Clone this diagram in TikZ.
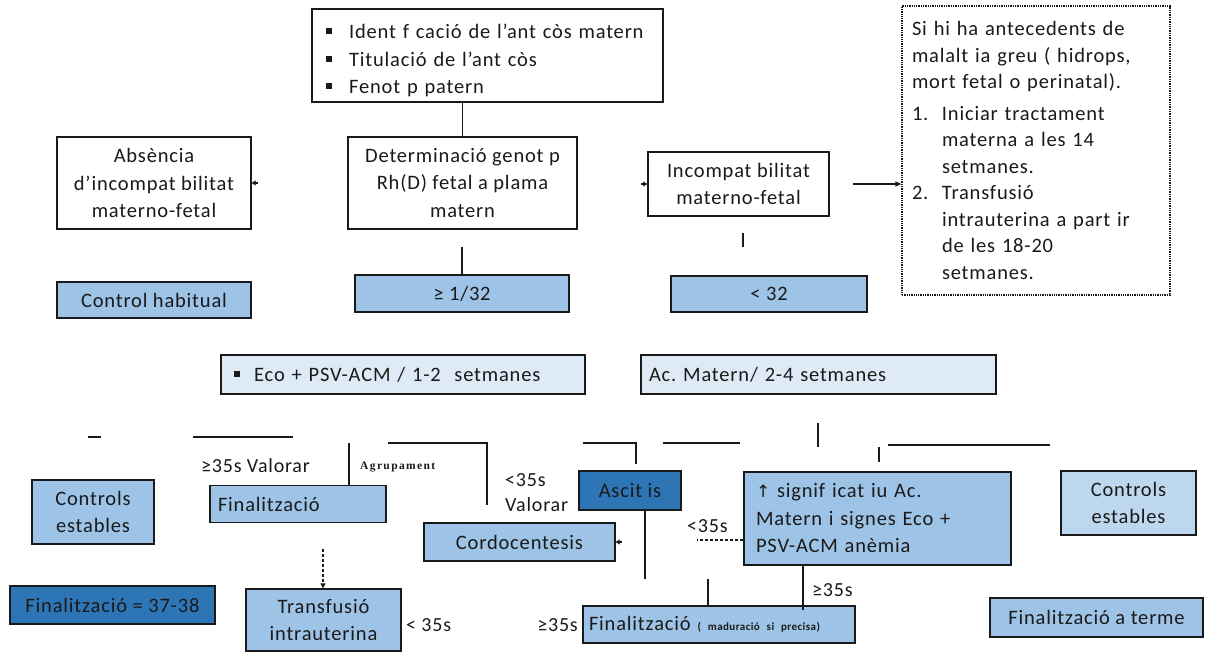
\documentclass[tikz,border=0pt]{standalone}
\usepackage{fontspec}
\setmainfont{Carlito}[LetterSpace=4]
\newfontfamily\symfont{DejaVu Sans}
\newfontfamily\serifb{Liberation Serif}[LetterSpace=12]
\usetikzlibrary{arrows.meta,calc}
\definecolor{boxblue}{HTML}{9DC3E6}
\definecolor{deepblue}{HTML}{2E75B6}
\definecolor{paleblue}{HTML}{DEEBF7}
\definecolor{softblue}{HTML}{BDD7EE}
\definecolor{ink}{HTML}{1A1A1A}
\newcommand\sqbul{\rule[0.22em]{0.3em}{0.3em}}
\frenchspacing
\begin{document}
\begin{tikzpicture}[x=1pt,y=-1pt,
  every node/.style={font=\fontsize{20.5}{27.5}\selectfont, text=ink},
  card/.style={draw=ink, line width=1.3pt, inner sep=0pt, align=center},
  plain/.style={card, fill=white},
  mid/.style={card, fill=boxblue},
  deep/.style={card, fill=deepblue},
  pale/.style={card, fill=paleblue},
  soft/.style={card, fill=softblue},
  note/.style={inner sep=0pt, font=\fontsize{20}{26}\selectfont},
  conn/.style={draw=ink, line width=1.3pt},
  tip/.style={-{Triangle[length=4pt,width=5pt]}}
]
\useasboundingbox (0,0) rectangle (1211,653);
\fill[white] (0,0) rectangle (1211,653);

% --- top level ---
\node[plain, minimum width=351, minimum height=93, text width=323, inner xsep=14, align=left] (abtest) at (487.5,55.5)
  {\rule{0pt}{25pt}\sqbul\hspace{17pt}Ident f cació de l’ant còs matern\\
   \sqbul\hspace{17pt}Titulació de l’ant còs\\
   \sqbul\hspace{17pt}Fenot p patern};

\node[plain, minimum width=229, minimum height=92] (det) at (462.5,183)
  {Determinació genot p\\Rh(D) fetal a plama\\matern};
\node[plain, minimum width=194, minimum height=92] (absent) at (154,183)
  {Absència\\d’incompat bilitat\\materno-fetal};
\node[plain, minimum width=181, minimum height=64] (incomp) at (738.5,184)
  {Incompat bilitat\\materno-fetal};

\node[plain, draw=ink, densely dotted, line width=1.2pt, minimum width=268, minimum height=289,
      text width=248, inner xsep=10, align=left, font=\fontsize{20.5}{26.5}\selectfont] (risk) at (1036,150.5)
  {Si hi ha antecedents de\\
   malalt ia greu ( hidrops,\\
   mort fetal o perinatal).\\[5pt]
   \makebox[30pt][l]{1.}Iniciar tractament\\
   \hspace*{30pt}materna a les 14\\
   \hspace*{30pt}setmanes.\\
   \makebox[30pt][l]{2.}Transfusió\\
   \hspace*{30pt}intrauterina a part ir\\
   \hspace*{30pt}de les 18-20\\
   \hspace*{30pt}setmanes.};

\draw[conn] (det.north) -- (det.north |- abtest.south);
\draw[conn,tip] ([xshift=6pt]absent.east) -- (absent.east);
\draw[conn,tip] ([xshift=-6pt]incomp.west) -- (incomp.west);
\coordinate (toRisk) at (853,184);
\draw[conn,-{Triangle[length=6pt,width=5pt]}] (toRisk) -- (toRisk -| risk.west);

% --- titre results ---
\node[mid, minimum width=194, minimum height=36] (ctrlhab) at (154,300) {Control habitual};
\node[mid, minimum width=214, minimum height=37] (ge) at (462,293.5) {≥ 1/32};
\node[mid, minimum width=196, minimum height=36] (lt) at (769,294) {< 32};

\draw[conn] ([yshift=27pt]ge.north) -- (ge.north);
\coordinate (ltTop) at (743,233);
\draw[conn] (ltTop) -- ++(0,14);

% --- follow-up ---
\node[pale, minimum width=364, minimum height=39, text width=338, inner xsep=13, align=left] (eco) at (403,374.5)
  {\sqbul\hspace{14pt}Eco + PSV-ACM / 1-2\ \ setmanes};
\node[pale, minimum width=347, minimum height=39, text width=339, inner xsep=8, align=left] (acm) at (818.5,374.5)
  {Ac. Matern/ 2-4 setmanes};

% --- branch lines ---
\coordinate (b1) at (88,437);
\draw[conn] (b1) -- ++(13,0);
\coordinate (b2) at (193,437);
\draw[conn] (b2) -- ++(100,0);
\coordinate (b3) at (388,443);
\coordinate (b4) at (583,443);
\coordinate (b5) at (663,443);
\draw[conn] (b5) -- ++(77,0);
\coordinate (b6) at (818,423);
\draw[conn] (b6) -- ++(0,24);
\coordinate (b7) at (879,447);
\draw[conn] (b7) -- ++(0,15);
\coordinate (b8) at (888,445);
\draw[conn] (b8) -- ++(162,0);

% --- outcomes ---
\node[mid, minimum width=122, minimum height=64] (ctrl1) at (93,512) {Controls\\estables};
\node[mid, minimum width=168, minimum height=37, text width=160, inner xsep=8, align=left] (fin1) at (298,504) {Finalització};
\node[deep, minimum width=102, minimum height=39] (asc) at (630,490.5) {Ascit is};
\node[mid, minimum width=255, minimum height=93, text width=243, inner xsep=12, align=left] (signif) at (877.5,518.5)
  {{\symfont\fontsize{17}{27}\selectfont ↑} signif icat iu Ac.\\Matern i signes Eco +\\PSV-ACM anèmia};
\node[soft, minimum width=135, minimum height=64] (ctrl2) at (1128.5,503) {Controls\\estables};
\node[mid, minimum width=191, minimum height=38] (cordo) at (519.5,542) {Cordocentesis};

\draw[conn] (fin1.north -| 349,0) -- ++(0,-42);
\draw[conn] (b3) -- ++(99,0) -- ++(0,62);
\draw[conn] (b4) -- ++(53,0) |- ([yshift=6pt]asc.north -| 636,0);

\node[note, anchor=west] at (201,466) {≥35s Valorar};
\node[inner sep=0pt, anchor=west, font=\serifb\bfseries\fontsize{11.5}{13}\selectfont] at (360,467) {Agrupament};
\node[note, anchor=west, align=left, font=\fontsize{20}{25}\selectfont] at (505,493) {<35s\\Valorar};

\coordinate (dashEnd) at (697,540);
\draw[conn, dash pattern=on 3pt off 2pt, line width=1.1pt] (dashEnd -| signif.west) -- (dashEnd);
\node[note, anchor=west] at (687,526) {<35s};
\draw[conn,tip] ([xshift=6pt]cordo.east) -- (cordo.east);

% --- endings ---
\node[deep, minimum width=205, minimum height=38] (fin37) at (112.5,605) {Finalització = 37-38};
\node[mid, minimum width=155, minimum height=62] (transf) at (323.5,620) {Transfusió\\intrauterina};
\node[mid, minimum width=272, minimum height=37, text width=260, inner xsep=6, align=left] (fin2) at (719,624.5)
  {Finalització {\bfseries\fontsize{11}{12}\selectfont ( maduració si precisa)}};
\node[mid, minimum width=213, minimum height=39] (finterm) at (1096.5,617.5) {Finalització a terme};

\coordinate (dArr) at (323,549);
\draw[conn, dash pattern=on 3pt off 2pt, line width=1.1pt, -{Triangle[length=5pt,width=5pt]}] (dArr) -- (dArr |- transf.north);
\draw[conn] (asc.south -| 645,0) -- ++(0,68);
\draw[conn] (fin2.north -| 708,0) -- ++(0,-26);
\draw[conn] (signif.south -| 803,0) -- ([yshift=-5pt]fin2.north -| 803,0);

\node[note, anchor=west] at (406,625) {< 35s};
\node[note, anchor=east] at (578,625) {≥35s};
\node[note, anchor=west] at (812,590) {≥35s};
\end{tikzpicture}
\end{document}
